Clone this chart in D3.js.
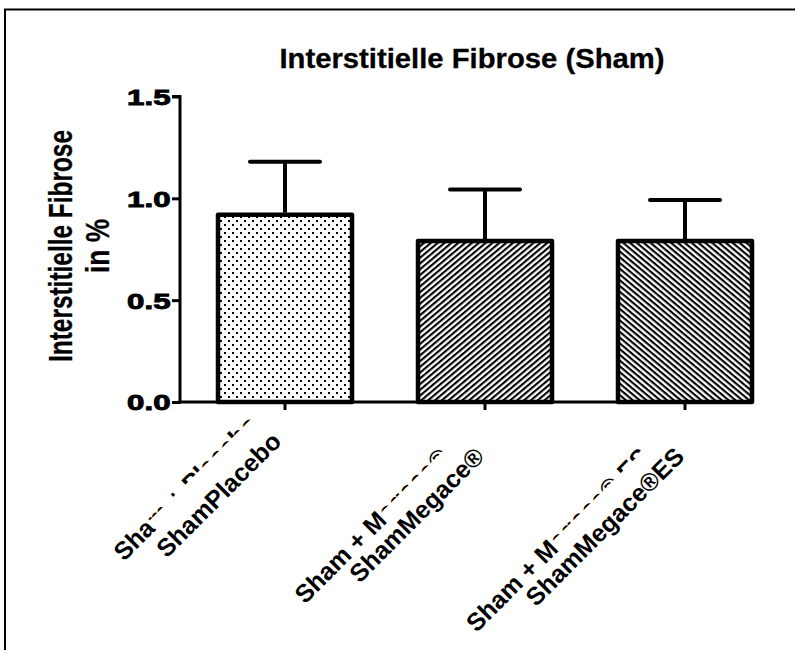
<!DOCTYPE html>
<html><head><meta charset="utf-8">
<script src="https://cdn.jsdelivr.net/npm/d3@7"></script>
<style>
html,body{margin:0;padding:0;background:#fff;}
text{font-family:"Liberation Sans",Arial,sans-serif;font-weight:bold;fill:#000;}
</style></head>
<body>
<svg id="chart" width="795" height="650"></svg>
<script>
const categories = ["Sham + Placebo", "Sham + Megace®", "Sham + Megace® ES"];
const shortLabels = ["ShamPlacebo", "ShamMegace®", "ShamMegace®ES"];
const means = [0.92, 0.79, 0.79];
const sem = [0.26, 0.253, 0.202];
const yTicks = [0, 0.5, 1.0, 1.5];
const patterns = ["dots", "hatchUp", "hatchDown"];
const title = "Interstitielle Fibrose (Sham)";
const yTitle = ["Interstitielle Fibrose", "in %"];

const svg = d3.select("#chart");
const defs = svg.append("defs");

// patterns
const pd = defs.append("pattern").attr("id","dots").attr("patternUnits","userSpaceOnUse")
  .attr("width",8).attr("height",8);
pd.append("rect").attr("x",0).attr("y",0).attr("width",2).attr("height",2).attr("fill","#000");
pd.append("rect").attr("x",4).attr("y",4).attr("width",2).attr("height",2).attr("fill","#000");
function hatch(id, ang){
  const p = defs.append("pattern").attr("id",id).attr("patternUnits","userSpaceOnUse")
    .attr("width",10).attr("height",4.4).attr("patternTransform",`rotate(${ang})`);
  p.append("rect").attr("x",0).attr("y",0).attr("width",10).attr("height",2.1).attr("fill","#000");
}
hatch("hatchUp", -40);
hatch("hatchDown", 40);

// frame
svg.append("rect").attr("x",5).attr("y",9.5).attr("width",1000).attr("height",1000)
  .attr("fill","none").attr("stroke","#000").attr("stroke-width",2);

const x = d3.scaleBand().domain(categories).range([185,785]).paddingInner(0.33).paddingOuter(0.165);
const y = d3.scaleLinear().domain([0,1.5]).range([402,96.5]);

// bars
const bars = svg.append("g");
categories.forEach((c,i)=>{
  bars.append("rect").attr("x",x(c)).attr("y",y(means[i]))
    .attr("width",x.bandwidth()).attr("height",y(0)-y(means[i]))
    .attr("fill",`url(#${patterns[i]})`).attr("stroke","#000").attr("stroke-width",4.5)
    .attr("stroke-linejoin","round");
  const cx = x(c)+x.bandwidth()/2;
  bars.append("line").attr("x1",cx).attr("x2",cx).attr("y1",y(means[i])-2).attr("y2",y(means[i]+sem[i]))
    .attr("stroke","#000").attr("stroke-width",4);
  bars.append("line").attr("x1",cx-35).attr("x2",cx+35).attr("y1",y(means[i]+sem[i])).attr("y2",y(means[i]+sem[i]))
    .attr("stroke","#000").attr("stroke-width",4).attr("stroke-linecap","round");
});

// y axis
const yAxis = svg.append("g").attr("transform","translate(180,0)")
  .call(d3.axisLeft(y).tickValues(yTicks).tickFormat(d3.format(".1f")).tickSize(8).tickPadding(2));
yAxis.select(".domain").attr("stroke-width",3).attr("d",`M-8,${y(1.5)}H0V${y(0)+1.5}`);
yAxis.selectAll(".tick line").attr("stroke-width",3);
const sx = 1.42;
yAxis.selectAll(".tick text").attr("font-size",22).attr("font-family","Liberation Sans, Arial")
  .attr("font-weight","bold").attr("fill","#000").attr("stroke","#000").attr("stroke-width",0.9)
  .attr("x",-9.5/sx).attr("transform",`scale(${sx},1)`)
  .attr("dy","0.36em");

// x axis
const xAxis = svg.append("g").attr("transform",`translate(0,${y(0)})`)
  .call(d3.axisBottom(x).tickSize(8).tickFormat(""));
xAxis.select(".domain").attr("stroke-width",3).attr("d",`M178.5,0H${x(categories[2])+x.bandwidth()/2+3}`);
xAxis.selectAll(".tick line").attr("stroke-width",3);

// x labels
const F = 25;
const labelNudge = [[-3,-15],[0,0],[0,0]];
const line1Pos = [[-43,12],[-64,16],[-64,16]];
categories.forEach((c,i)=>{
  const cx = x(c)+x.bandwidth()/2;
  const g = svg.append("g").attr("transform",`translate(${cx+labelNudge[i][0]},${y(0)+labelNudge[i][1]}) rotate(-45)`);
  const [a1,p1] = line1Pos[i];
  const t1 = g.append("text").attr("x",a1).attr("y",p1).attr("text-anchor","end")
    .attr("font-size",F).text(c);
  const len1 = t1.node().getComputedTextLength();
  const idx = i===0 ? 3 : 8;
  const cut = t1.node().getSubStringLength(0, idx);
  const x0 = a1 - len1 + cut;
  g.append("rect").attr("x",x0).attr("y",p1-0.45*F).attr("width",a1-x0+12).attr("height",0.45*F+34)
    .attr("fill","#fff");
  g.append("text").attr("x",-39).attr("y",40).attr("text-anchor","end")
    .attr("font-size",F).text(shortLabels[i]);
});

// title
svg.append("text").attr("x",472).attr("y",68).attr("text-anchor","middle")
  .attr("font-size",27).attr("stroke","#000").attr("stroke-width",0.3)
  .attr("textLength",385).attr("lengthAdjust","spacingAndGlyphs").text(title);

// y title
const yt = svg.append("g").attr("transform",`translate(0,246) rotate(-90)`);
yt.append("text").attr("x",0).attr("y",72).attr("text-anchor","middle").attr("font-size",33)
  .attr("stroke","#000").attr("stroke-width",0.3)
  .attr("textLength",232).attr("lengthAdjust","spacingAndGlyphs").text(yTitle[0]);
yt.append("text").attr("x",0).attr("y",109).attr("text-anchor","middle").attr("font-size",33)
  .attr("stroke","#000").attr("stroke-width",0.3)
  .attr("textLength",54).attr("lengthAdjust","spacingAndGlyphs").text(yTitle[1]);
</script>
</body></html>
